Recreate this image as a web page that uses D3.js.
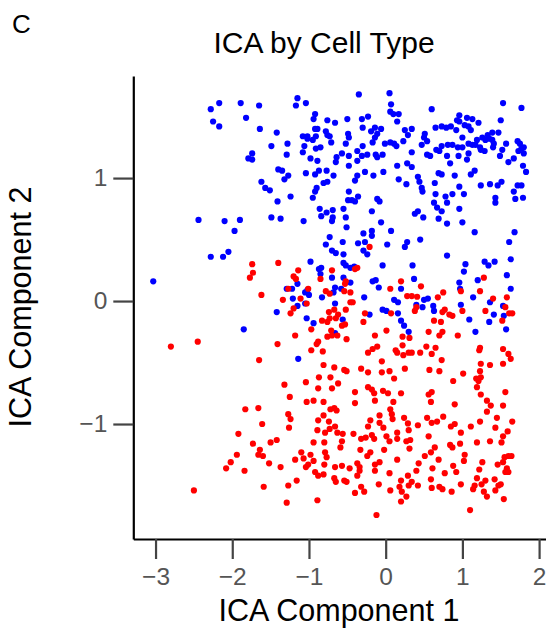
<!DOCTYPE html>
<html>
<head>
<meta charset="utf-8">
<script src="https://cdn.jsdelivr.net/npm/d3@7"></script>
<style>
  html, body { margin: 0; padding: 0; background: #fff; }
  svg text { font-family: "Liberation Sans", Arial, Helvetica, sans-serif; }
</style>
</head>
<body>
<svg id="chart" width="546" height="630"></svg>
<script>
// ICA scores (component 1, component 2) for the two cell groups
const blueCells = [
  [-2.28,1.56],[-2.17,1.61],[-1.89,1.61],[-1.65,1.59],[-2.25,1.46],[-2.17,1.42],[-1.82,1.49],[-1.64,1.40],[-1.49,1.26],[-1.74,1.20],
  [-1.79,1.16],[-1.74,1.15],[-1.62,0.97],[-1.57,0.92],[-1.51,0.90],[-1.49,0.68],[-2.44,0.66],[-2.10,0.65],[-1.90,0.66],[-1.97,0.57],
  [-0.35,1.68],[0.05,1.69],[-1.15,1.65],[-1.17,1.59],[-1.04,1.61],[0.07,1.60],[0.06,1.54],[0.10,1.52],[0.17,1.52],[-0.92,1.52],
  [-0.94,1.48],[-0.76,1.47],[-0.66,1.45],[-0.50,1.48],[-0.31,1.48],[-0.23,1.50],[0.15,1.46],[-1.42,1.37],[-0.92,1.40],[-0.89,1.40],
  [-0.78,1.38],[-0.76,1.35],[-0.73,1.34],[-0.49,1.36],[-0.48,1.33],[-0.30,1.41],[-0.19,1.38],[-0.14,1.41],[-0.06,1.40],[-0.11,1.36],
  [-0.14,1.33],[0.25,1.39],[0.29,1.35],[0.23,1.30],[-1.08,1.34],[-1.02,1.34],[-1.02,1.32],[-0.95,1.31],[-0.91,1.34],[-1.28,1.28],
  [-1.06,1.26],[-0.91,1.24],[-0.85,1.25],[-0.71,1.29],[-0.52,1.28],[-0.37,1.22],[-0.30,1.26],[-0.17,1.29],[-0.01,1.28],[0.06,1.29],
  [0.11,1.28],[0.14,1.26],[-1.29,1.19],[-1.08,1.21],[-0.98,1.16],[-0.89,1.14],[-0.64,1.17],[-0.65,1.13],[-0.57,1.20],[-0.48,1.18],
  [-0.48,1.10],[-0.37,1.14],[-0.31,1.18],[-0.24,1.19],[-0.13,1.19],[-0.11,1.17],[-0.04,1.19],[0.15,1.10],[0.28,1.12],[-1.40,1.07],
  [-1.35,1.06],[-1.27,1.02],[-1.32,0.99],[-1.04,1.04],[-0.92,1.03],[-0.87,1.06],[-0.77,1.06],[-0.68,1.02],[-0.37,1.02],[-0.40,0.98],
  [-0.27,1.05],[-0.16,1.02],[-0.03,1.05],[0.17,0.99],[0.27,0.95],[-0.81,0.96],[-0.76,0.97],[-0.90,0.92],[-0.92,0.89],[-1.41,0.81],
  [-1.24,0.85],[-0.95,0.84],[-0.48,0.89],[-0.36,0.85],[-0.49,0.82],[-0.44,0.82],[-0.40,0.81],[-0.11,0.83],[-0.08,0.81],[-0.86,0.75],
  [-0.77,0.72],[-0.84,0.69],[-0.69,0.74],[-0.69,0.68],[-0.70,0.65],[-0.55,0.75],[-0.52,0.68],[-0.18,0.73],[-1.37,0.67],[-1.07,0.65],
  [-0.51,0.60],[-0.06,0.64],[0.07,0.57],[-0.29,0.55],[-0.18,0.57],
  [1.53,1.61],[1.77,1.57],[0.60,1.56],[0.96,1.51],[1.06,1.49],[1.13,1.48],[0.93,1.47],[0.96,1.46],[1.21,1.45],[1.50,1.47],
  [0.34,1.40],[0.65,1.41],[0.73,1.42],[0.79,1.41],[0.85,1.42],[0.92,1.39],[1.03,1.43],[1.08,1.42],[1.11,1.39],[0.51,1.36],
  [0.50,1.33],[0.54,1.30],[0.47,1.27],[1.00,1.33],[1.26,1.33],[1.33,1.35],[1.39,1.37],[1.35,1.32],[1.47,1.37],[1.19,1.31],
  [1.30,1.31],[1.39,1.31],[1.41,1.28],[1.08,1.28],[1.13,1.27],[1.17,1.27],[1.23,1.25],[1.24,1.23],[1.29,1.22],[0.81,1.27],
  [0.87,1.27],[0.94,1.25],[1.00,1.25],[0.66,1.23],[0.73,1.26],[0.70,1.22],[0.34,1.21],[0.54,1.19],[0.58,1.18],[0.80,1.18],
  [0.95,1.18],[1.08,1.20],[1.06,1.15],[0.84,1.12],[1.52,1.23],[1.57,1.28],[1.40,1.25],[1.72,1.30],[1.75,1.28],[1.77,1.24],
  [1.80,1.25],[1.73,1.22],[1.80,1.20],[1.49,1.18],[1.60,1.13],[1.67,1.16],[1.79,1.10],[1.83,1.05],[0.34,1.09],[0.42,1.01],
  [0.44,0.97],[0.47,0.92],[0.48,0.89],[0.69,1.04],[0.73,1.03],[0.90,1.02],[1.11,1.03],[1.16,1.06],[0.64,0.96],[0.96,0.93],
  [1.24,0.94],[1.36,0.95],[1.46,0.94],[1.51,0.97],[1.72,0.94],[1.77,0.94],[1.67,0.89],[0.65,0.87],[0.78,0.85],[0.87,0.87],
  [1.02,0.87],[0.80,0.80],[1.43,0.84],[1.43,0.80],[1.69,0.83],[1.79,0.84],[0.63,0.80],[0.67,0.76],[0.73,0.73],[0.96,0.75],
  [0.38,0.71],[0.42,0.73],[0.49,0.68],[0.69,0.67],[0.80,0.63],[1.00,0.64],[1.16,0.56],[1.68,0.56],
  [-2.05,0.40],[-2.28,0.36],[-2.12,0.36],[-3.03,0.16],[-1.85,-0.23],
  [-0.73,0.52],[-0.56,0.48],[-0.78,0.46],[-0.70,0.41],[-0.65,0.39],[-0.55,0.38],[-0.36,0.47],[-0.27,0.48],[-0.29,0.41],[-0.24,0.38],
  [-0.18,0.53],[0.02,0.46],[0.25,0.44],[0.28,0.48],[-0.98,0.32],[-0.55,0.31],[-0.52,0.29],[-0.46,0.27],[-0.41,0.28],[-0.87,0.26],
  [-0.84,0.27],[-0.85,0.22],[-0.70,0.19],[-0.55,0.19],[-0.04,0.29],[-1.15,0.14],[-1.22,0.10],[-1.29,0.10],[-1.05,0.07],[-1.02,0.09],
  [-1.00,0.05],[-0.83,0.03],[-0.66,0.11],[-0.68,0.07],[-0.58,0.10],[-0.46,0.15],[-0.17,0.16],[-0.13,0.17],[-0.09,0.11],[0.20,0.10],
  [-0.28,0.03],[-1.21,0.02],[-1.15,-0.04],[-1.05,-0.02],[-0.66,-0.02],[0.11,0.01],[0.16,-0.01],[-1.42,-0.09],[-1.03,-0.14],[-0.94,-0.18],
  [-0.56,-0.15],[-0.66,-0.26],[-0.21,-0.11],[-0.04,-0.07],[0.01,-0.08],[0.16,-0.10],[0.20,-0.16],[0.24,-0.20],[0.30,-0.25],[-1.14,-0.47],
  [0.45,0.50],[1.61,0.48],[0.80,0.37],[1.63,0.34],[1.29,0.32],[1.34,0.29],[1.42,0.32],[1.04,0.30],[1.02,0.24],[0.35,0.29],
  [0.37,0.18],[1.58,0.21],[1.20,0.17],[0.96,0.15],[0.97,0.10],[1.63,0.10],[1.14,0.03],[1.36,-0.01],[0.50,0.01],[0.55,0.02],
  [0.40,-0.03],[0.48,-0.05],[0.62,-0.04],[0.63,-0.08],[0.98,-0.03],[1.53,-0.04],[1.41,-0.11],[1.54,-0.12],[1.09,-0.15],[1.35,-0.17],
  [1.57,-0.23],[1.17,-0.25]
];

const redCells = [
  [-1.74,0.30],[-1.73,0.23],[-1.77,0.19],[-1.62,0.05],[-2.45,-0.33],[-2.80,-0.37],[-1.65,-0.48],
  [-0.21,0.44],[-1.40,0.31],[-1.14,0.25],[-1.20,0.20],[-1.17,0.18],[-0.70,0.25],[-0.85,0.18],[-0.52,0.16],[-0.53,0.14],[-0.40,0.26],
  [-0.37,0.27],[0.20,0.16],[0.06,0.10],[0.28,0.04],[-1.27,0.10],[-1.01,0.10],[-1.11,0.02],[-1.34,0.01],[-1.03,-0.02],[-0.78,0.08],
  [-0.73,0.06],[-0.54,0.08],[-0.46,0.07],[-0.43,-0.01],[-0.46,-0.01],[-0.52,-0.07],[-0.67,-0.07],[-0.74,-0.09],[-0.65,-0.14],[-0.62,-0.11],
  [-0.73,-0.14],[-0.83,-0.16],[-0.76,-0.17],[-0.57,-0.20],[-0.53,-0.19],[-0.71,-0.24],[-0.27,-0.10],[-0.29,-0.17],[-1.20,-0.06],[-1.24,-0.10],
  [0.07,-0.10],[-0.97,-0.23],[0.01,-0.24],[0.31,-0.30],[0.22,-0.29],[-0.14,-0.28],[-0.70,-0.28],[-0.63,-0.28],[-0.76,-0.29],[-0.51,-0.31],
  [-0.88,-0.33],[-0.90,-0.35],[-1.41,-0.35],[-1.18,-0.28],[-0.97,-0.40],[-0.82,-0.41],[-0.17,-0.39],[-0.11,-0.37],[-0.23,-0.42],[0.22,-0.36],
  [0.13,-0.40],[0.15,-0.42],[0.23,-0.44],[0.30,-0.42],[-0.05,-0.49],[-0.81,-0.52],[-0.67,-0.54],[-0.54,-0.56],[-0.51,-0.57],[-0.32,-0.55],
  [-0.23,-0.58],[-0.05,-0.58],[0.05,-0.57],[0.25,-0.55],[0.11,-0.63],[-0.87,-0.62],[-0.72,-0.62],[-1.04,-0.66],[-1.32,-0.68],[-0.62,-0.67],
  [1.28,0.19],[0.46,0.12],[0.98,0.08],[1.23,0.08],[0.75,0.07],[0.68,0.03],[0.34,0.04],[0.41,0.035],[1.40,0.02],[1.58,0.03],
  [0.40,-0.05],[0.38,-0.08],[0.77,-0.07],[0.74,-0.09],[0.83,-0.11],[0.87,-0.12],[1.00,-0.08],[1.30,-0.08],[1.56,-0.05],[1.61,-0.10],
  [1.65,-0.10],[1.52,-0.16],[0.63,-0.16],[0.72,-0.17],[0.56,-0.25],[0.74,-0.25],[0.70,-0.28],[0.94,-0.28],[0.53,-0.37],[0.65,-0.38],
  [0.45,-0.42],[0.34,-0.42],[0.60,-0.43],[1.23,-0.38],[1.22,-0.40],[1.53,-0.39],[1.60,-0.43],[1.63,-0.47],[0.73,-0.48],[1.24,-0.51],
  [1.36,-0.52],[1.53,-0.51],[0.57,-0.56],[0.70,-0.57],[1.01,-0.59],[1.23,-0.57],[0.88,-0.65],[1.18,-0.63],[1.24,-0.62],[1.21,-0.65],
  [-1.83,-0.88],[-1.66,-0.87],[-1.61,-1.00],[-1.92,-1.08],[-1.73,-1.16],[-1.50,-1.15],[-1.64,-1.21],[-1.66,-1.25],[-1.60,-1.26],[-1.94,-1.25],
  [-2.02,-1.31],[-2.08,-1.36],[-1.84,-1.38],[-1.52,-1.32],[-2.50,-1.54],[-1.59,-1.51],
  [-0.88,-0.71],[-0.70,-0.71],[-1.25,-0.78],[-1.03,-0.82],[-0.94,-0.81],[-0.81,-0.82],[-0.40,-0.74],[-0.40,-0.83],[-0.23,-0.70],[-0.18,-0.72],
  [-0.15,-0.75],[-0.14,-0.81],[-0.035,-0.73],[0.03,-0.75],[0.20,-0.75],[0.10,-0.82],[-1.27,-0.92],[-1.24,-0.96],[-1.26,-1.03],[-0.88,-0.97],
  [-0.81,-0.93],[-0.72,-0.88],[-0.67,-0.87],[-0.64,-0.89],[-0.74,-0.98],[-0.73,-1.04],[-0.66,-1.02],[-0.63,-1.07],[-0.79,-1.07],[-0.56,-1.08],
  [-0.89,-1.05],[-1.42,-1.13],[-0.94,-1.15],[-0.80,-1.15],[-0.57,-1.14],[-0.59,-1.19],[-0.42,-1.08],[-0.20,-0.97],[-0.23,-1.02],[-0.08,-0.93],
  [-0.08,-0.99],[-0.03,-1.03],[0.06,-0.88],[0.08,-0.92],[0.09,-0.96],[0.24,-0.95],[0.29,-0.995],[0.15,-1.07],[0.15,-1.12],[0.01,-1.10],
  [0.05,-1.14],[0.27,-1.14],[0.30,-1.05],[-0.32,-1.12],[-0.26,-1.11],[-0.18,-1.09],[-0.15,-1.12],[-0.02,-1.21],[-0.33,-1.21],[-0.20,-1.23],
  [-0.24,-1.26],[0.31,-1.20],[-1.10,-1.23],[-0.98,-1.25],[-1.07,-1.28],[-1.18,-1.29],[-0.94,-1.30],[-1.01,-1.33],[-1.04,-1.35],[-0.79,-1.23],
  [-0.77,-1.27],[-0.80,-1.33],[-0.81,-1.41],[-0.92,-1.39],[-0.88,-1.42],[-1.37,-1.35],[-0.66,-1.35],[-0.57,-1.34],[-0.47,-1.36],[-0.37,-1.32],
  [-0.34,-1.35],[-0.34,-1.38],[-0.14,-1.33],[-0.08,-1.31],[-0.14,-1.38],[0.15,-1.29],[0.05,-1.40],[-0.37,-1.42],[-0.67,-1.44],[-0.65,-1.47],
  [-0.54,-1.46],[-0.51,-1.47],[-1.16,-1.46],[-1.27,-1.50],[-0.32,-1.51],[-0.28,-1.55],[-0.40,-1.56],[-0.09,-1.49],[0.20,-1.46],[0.18,-1.51],
  [0.21,-1.55],[0.27,-1.59],[0.29,-1.42],[0.30,-1.50],[0.06,-1.54],[0.20,-1.63],[-1.29,-1.64],[-0.89,-1.62],[-0.12,-1.74],
  [0.56,-0.76],[0.60,-0.74],[0.59,-0.82],[1.19,-0.70],[1.24,-0.76],[1.32,-0.81],[1.37,-0.85],[1.32,-0.90],[1.56,-0.74],[1.53,-0.85],
  [0.90,-0.84],[0.75,-0.94],[0.54,-0.95],[0.60,-0.99],[0.67,-0.98],[0.42,-1.01],[0.85,-1.02],[0.90,-1.00],[0.98,-1.07],[1.11,-1.02],
  [1.23,-0.98],[1.45,-0.95],[1.65,-0.98],[1.43,-1.03],[1.59,-1.06],[1.53,-1.10],[1.51,-1.15],[1.36,-1.14],[1.19,-1.15],[0.32,-1.13],
  [0.56,-1.10],[0.64,-1.19],[0.59,-1.23],[0.51,-1.26],[0.69,-1.29],[0.43,-1.32],[0.84,-1.17],[0.87,-1.19],[0.97,-1.16],[1.03,-1.25],
  [1.02,-1.30],[0.88,-1.34],[0.77,-1.40],[0.92,-1.39],[0.61,-1.36],[0.40,-1.38],[1.26,-1.31],[1.22,-1.37],[1.46,-1.33],[1.53,-1.31],
  [1.55,-1.27],[1.60,-1.26],[1.64,-1.26],[1.58,-1.36],[1.56,-1.39],[1.60,-1.39],[0.59,-1.45],[0.34,-1.47],[0.42,-1.50],[0.60,-1.52],
  [0.70,-1.51],[0.74,-1.53],[0.86,-1.55],[0.98,-1.49],[1.19,-1.44],[1.16,-1.50],[1.14,-1.53],[1.25,-1.49],[1.30,-1.46],[1.28,-1.55],
  [1.32,-1.59],[1.42,-1.45],[1.47,-1.50],[1.43,-1.54],[1.50,-1.49],[1.54,-1.61],[1.10,-1.70]
];

const xTicks = [-3, -2, -1, 0, 1, 2];
const yTicks = [-1, 0, 1];

const svg = d3.select("#chart");

const x = d3.scaleLinear().domain([-3.29, 2.09]).range([133.3, 546]);
const y = d3.scaleLinear().domain([-1.935, 1.83]).range([539, 76]);

const minus = d => d3.format("")(d).replace("-", "\u2212");

// x axis
const gx = svg.append("g").attr("transform", "translate(0,539)")
  .call(d3.axisBottom(x).tickValues(xTicks).tickFormat(minus)
    .tickSize(20).tickSizeOuter(0).tickPadding(9));
gx.select(".domain").attr("stroke", "#000").attr("stroke-width", 2.2);
gx.selectAll(".tick line").attr("stroke", "#444").attr("stroke-width", 2.2);
gx.selectAll(".tick text").attr("fill", "#555").attr("font-size", 24.5)
  .style("font-family", "'Liberation Sans', Arial, sans-serif");

// y axis
const gy = svg.append("g").attr("transform", "translate(133.3,0)")
  .call(d3.axisLeft(y).tickValues(yTicks).tickFormat(minus)
    .tickSize(20).tickSizeOuter(0).tickPadding(6));
gy.select(".domain").attr("stroke", "#000").attr("stroke-width", 2.2);
gy.selectAll(".tick line").attr("stroke", "#444").attr("stroke-width", 2.2);
gy.selectAll(".tick text").attr("fill", "#555").attr("font-size", 24.5)
  .style("font-family", "'Liberation Sans', Arial, sans-serif");

// points
const pts = svg.append("g");
pts.selectAll("circle.blue").data(blueCells).join("circle")
  .attr("class", "blue")
  .attr("cx", d => x(d[0])).attr("cy", d => y(d[1]))
  .attr("r", 3.1).attr("fill", "#0000ff");
pts.selectAll("circle.red").data(redCells).join("circle")
  .attr("class", "red")
  .attr("cx", d => x(d[0])).attr("cy", d => y(d[1]))
  .attr("r", 3.1).attr("fill", "#ff0000");

// labels
svg.append("text").attr("x", 12).attr("y", 33).attr("font-size", 26).attr("fill", "#000").text("C");
svg.append("text").attr("x", 324).attr("y", 53).attr("text-anchor", "middle")
  .attr("font-size", 30).attr("fill", "#000").text("ICA by Cell Type");
svg.append("text").attr("x", 339).attr("y", 621).attr("text-anchor", "middle")
  .attr("font-size", 30.5).attr("fill", "#000").text("ICA Component 1");
svg.append("text").attr("transform", "translate(31,307) rotate(-90)").attr("text-anchor", "middle")
  .attr("font-size", 30.5).attr("fill", "#000").text("ICA Component 2");
</script>
</body>
</html>
